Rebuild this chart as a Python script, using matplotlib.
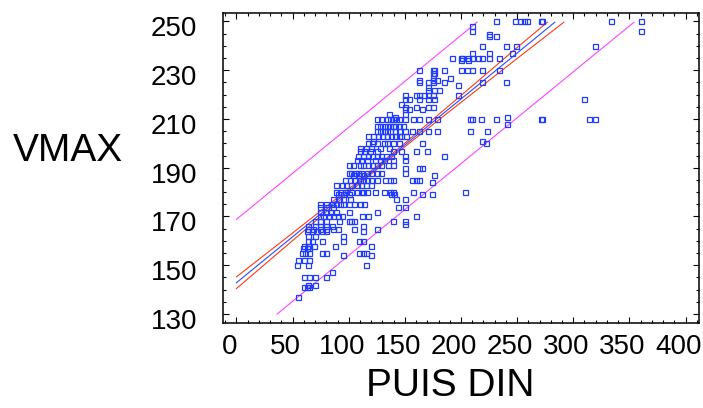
import matplotlib
matplotlib.use("Agg")
import matplotlib.pyplot as plt
import matplotlib.transforms as mtransforms
from matplotlib.ticker import MultipleLocator

# VMAX levels and the PUIS DIN values of the cars seen at each level
vmax_levels = [250, 248, 246, 245, 244, 240, 237, 235, 234, 230,
               229, 227, 226, 225, 224, 223, 222, 220, 218, 216,
               215, 214, 212, 211, 210, 208, 207, 205, 203, 201,
               200, 198, 197, 195, 193, 191, 190, 188, 187, 185,
               184, 183, 180, 179, 177, 175, 174, 172, 170, 168,
               167, 166, 165, 164, 162, 160, 158, 157, 155, 154,
               152, 150, 147, 145, 142, 141, 137]
puis_by_level = [
    [231, 248, 253, 256, 259, 271, 272, 334, 360],
    [210],
    [210, 360],
    [225],
    [225, 231],
    [219, 240, 249, 319],
    [210, 225, 245],
    [192, 200, 201, 206, 210, 215, 219, 225, 234],
    [200, 206],
    [163, 175, 176, 185, 200, 205, 210, 219, 234],
    [175, 176],
    [175, 190],
    [163, 175, 179],
    [163, 171, 175, 185, 219, 240],
    [197],
    [171],
    [171, 176, 180],
    [150, 160, 163, 167, 171, 175, 197],
    [150, 154, 163, 171, 176, 310],
    [147],
    [150, 160, 171, 175],
    [150, 154, 165],
    [136, 150],
    [141, 241],
    [125, 129, 134, 137, 139, 142, 145, 150, 157, 163, 171, 179, 208, 210,
     218, 231, 271, 272, 314, 319],
    [241],
    [125, 128, 131, 134, 137, 139, 141, 145, 148],
    [125, 128, 131, 134, 137, 141, 145, 150, 156, 163, 171, 179, 208, 223],
    [117, 122, 126, 130, 134, 138, 141, 145, 147, 151],
    [122, 219],
    [117, 121, 125, 131, 134, 139, 145, 165, 222],
    [110, 115, 120, 128, 136],
    [110, 114, 119, 125, 139, 147, 160, 170],
    [108, 113, 117, 121, 125, 129, 133, 138, 150, 185],
    [107, 111, 116, 123, 128, 131, 139, 150],
    [100, 104, 110, 113, 117, 121, 125, 129, 135, 139],
    [150, 163, 165],
    [100, 102, 106, 108, 111, 116, 120, 125, 129, 150],
    [104, 109, 113, 176],
    [97, 101, 105, 110, 113, 116, 120, 125, 132, 137, 139, 156, 160, 163],
    [174],
    [89, 94, 98, 102, 107, 111, 115, 120],
    [89, 92, 97, 102, 107, 111, 113, 116, 123, 131, 137, 139, 157, 204],
    [90, 95, 100, 138, 140, 165, 174],
    [86, 91, 95, 101, 142, 150],
    [74, 80, 85, 89, 92, 95, 100, 105, 110, 114],
    [74, 80, 86, 144, 150],
    [74, 80, 83, 89, 100, 125],
    [74, 77, 82, 86, 90, 94, 112, 117, 160],
    [70, 74, 80, 91, 100, 102, 105, 139, 150],
    [150],
    [64, 70, 74, 80, 85, 113],
    [64, 68, 74, 80, 86, 90, 105, 125],
    [63, 67, 71, 76, 80, 113],
    [64, 70, 95],
    [64, 67, 76, 95, 109, 113],
    [60, 64, 69, 88, 120],
    [59, 63, 65],
    [58, 61, 65, 76, 80, 109, 113, 115],
    [95, 120],
    [55, 60, 65],
    [54, 64, 115],
    [85],
    [60, 65, 70, 80],
    [64, 70],
    [60, 63, 65],
    [55],
]

# regression line, confidence band (red) and prediction band (magenta)
fit_x = [0, 283.6]
fit_y = [142.8, 249.7]
conf_up_x = [0, 50, 100, 130, 150, 200, 250, 277]
conf_up_y = [145.2, 163.2, 181.3, 192.4, 200.1, 219.6, 239.3, 249.7]
conf_lo_x = [0, 50, 100, 130, 150, 200, 250, 291.6]
conf_lo_y = [140.4, 160.1, 179.7, 191.2, 198.6, 216.8, 234.8, 249.7]
pred_up_x = [0, 214.3]
pred_up_y = [168.8, 249.7]
pred_lo_x = [36.3, 354.1]
pred_lo_y = [130, 249.7]

puis = []
vmax = []
for v, row in zip(vmax_levels, puis_by_level):
    puis += row
    vmax += [v] * len(row)

plt.rcParams['font.family'] = ['Liberation Sans', 'DejaVu Sans']

fig = plt.figure(figsize=(7.03, 4.08), dpi=100)
ax = fig.add_axes([0.3172, 0.2091, 0.6771, 0.7598])

ax.plot(pred_up_x, pred_up_y, color='#ff44ff', lw=0.8)
ax.plot(pred_lo_x, pred_lo_y, color='#ff44ff', lw=0.8)
ax.plot(conf_up_x, conf_up_y, color='#ff3a10', lw=0.8)
ax.plot(conf_lo_x, conf_lo_y, color='#ff3a10', lw=0.8)
ax.plot(fit_x, fit_y, color='#2a4cff', lw=0.8)
ax.plot(puis, vmax, 's', ls='none', ms=3.6, mfc='none',
        mec='#1f3cff', mew=0.9)

ax.set_xlim(-12, 412)
ax.set_ylim(126.4, 253.6)
ax.xaxis.set_major_locator(MultipleLocator(50))
ax.xaxis.set_minor_locator(MultipleLocator(10))
ax.set_yticks(range(130, 251, 20))
ax.yaxis.set_minor_locator(MultipleLocator(5))
ax.tick_params(which='both', direction='in', top=True, right=True,
               width=0.8, labelsize=20)
ax.tick_params(which='major', length=4.5)
ax.tick_params(which='minor', length=2.5)
ax.tick_params(axis='y', pad=18.5)
ax.tick_params(axis='x', pad=8)
for s in ax.spines.values():
    s.set_linewidth(1.1)

dx = mtransforms.ScaledTranslation(-0.07, 0, fig.dpi_scale_trans)
for lab in ax.get_xticklabels():
    lab.set_transform(lab.get_transform() + dx)
dy = mtransforms.ScaledTranslation(0, -0.05, fig.dpi_scale_trans)
for lab in ax.get_yticklabels():
    lab.set_transform(lab.get_transform() + dy)

fig.text(68 / 703, 1 - 151 / 408, 'VMAX', fontsize=28,
         ha='center', va='center')
fig.text(450 / 703, 1 - 386 / 408, 'PUIS DIN', fontsize=28,
         ha='center', va='center')

fig.savefig('out.png', dpi=100)
